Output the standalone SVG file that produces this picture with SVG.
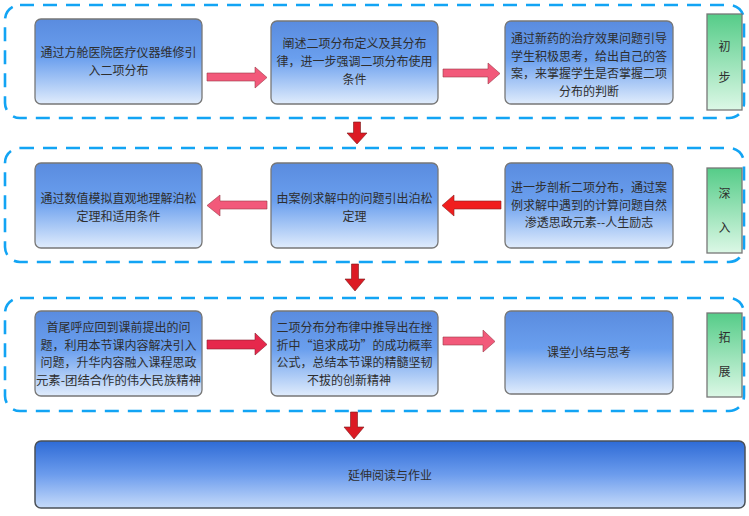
<svg xmlns="http://www.w3.org/2000/svg" width="749" height="516" viewBox="0 0 749 516">
<defs>
<linearGradient id="gb" x1="0" y1="0" x2="0" y2="1">
<stop offset="0" stop-color="#5a8cdf"/>
<stop offset="0.45" stop-color="#6a9fee"/>
<stop offset="1" stop-color="#e0ecfc"/>
</linearGradient>
<linearGradient id="gd" x1="0" y1="0" x2="0" y2="1">
<stop offset="0" stop-color="#2e6bd6"/>
<stop offset="0.5" stop-color="#6c9ced"/>
<stop offset="1" stop-color="#c6dbfa"/>
</linearGradient>
<linearGradient id="gg" x1="0" y1="0" x2="0" y2="1">
<stop offset="0" stop-color="#55cc88"/>
<stop offset="1" stop-color="#dcf8e6"/>
</linearGradient>
</defs>
<style>
.cont{fill:none;stroke:#12a4f4;stroke-width:2.6;stroke-dasharray:14 9}
.box{fill:url(#gb);stroke:#777;stroke-width:1.3}
.big{fill:url(#gd);stroke:#4a5058;stroke-width:1.5}
.grn{fill:url(#gg);stroke:#777;stroke-width:1.3}
text{font-family:"Noto Sans CJK SC","Liberation Serif",serif;font-size:12px;fill:#2e2e2e;text-anchor:middle}
.pink{fill:#f2597a;stroke:#9a3a48;stroke-width:0.6}
.red{fill:#f01e1e;stroke:#8a2020;stroke-width:0.6}
.crim{fill:#e6284c;stroke:#8a2030;stroke-width:0.6}
.down{fill:#dc1a24;stroke:#7a1a1a;stroke-width:0.6}
</style>
<g id="containers">
<rect class="cont" x="5" y="5" width="739" height="113" rx="15"/>
<rect class="cont" x="5" y="148" width="739" height="114" rx="15"/>
<rect class="cont" x="5" y="298" width="739" height="113" rx="15"/>
</g>
<g id="n1"><rect class="box" x="35" y="19" width="167" height="85" rx="6"/>
<text x="118.5" y="57">通过方舱医院医疗仪器维修引</text><text x="118.5" y="75">入二项分布</text></g>
<g id="n2"><rect class="box" x="271" y="21" width="167" height="83" rx="6"/>
<text x="354.5" y="48">阐述二项分布定义及其分布</text><text x="354.5" y="66">律，进一步强调二项分布使用</text><text x="354.5" y="84">条件</text></g>
<g id="n3"><rect class="box" x="505" y="21" width="168" height="83" rx="6"/>
<text x="589" y="43">通过新药的治疗效果问题引导</text><text x="589" y="60.5">学生积极思考，给出自己的答</text><text x="589" y="78">案，来掌握学生是否掌握二项</text><text x="589" y="95.5">分布的判断</text></g>
<g id="g1"><rect class="grn" x="707" y="14" width="35" height="96"/>
<text x="724.5" y="51">初</text><text x="724.5" y="82">步</text></g>

<g id="n4"><rect class="box" x="35" y="163" width="167" height="85" rx="6"/>
<text x="118.5" y="203">通过数值模拟直观地理解泊松</text><text x="118.5" y="220.5">定理和适用条件</text></g>
<g id="n5"><rect class="box" x="271" y="163" width="167" height="85" rx="6"/>
<text x="354.5" y="203">由案例求解中的问题引出泊松</text><text x="354.5" y="220.5">定理</text></g>
<g id="n6"><rect class="box" x="505" y="163" width="168" height="85" rx="6"/>
<text x="589" y="192.3">进一步剖析二项分布，通过案</text><text x="589" y="209.8">例求解中遇到的计算问题自然</text><text x="589" y="227.3">渗透思政元素--人生励志</text></g>
<g id="g2"><rect class="grn" x="707" y="168" width="35" height="85"/>
<text x="724.5" y="198">深</text><text x="724.5" y="232">入</text></g>

<g id="n7"><rect class="box" x="35" y="311" width="167" height="85" rx="6"/>
<text x="118.5" y="332">首尾呼应回到课前提出的问</text><text x="118.5" y="349.5">题，利用本节课内容解决引入</text><text x="118.5" y="367">问题，升华内容融入课程思政</text><text x="118.5" y="384.5" textLength="165" lengthAdjust="spacingAndGlyphs">元素-团结合作的伟大民族精神</text></g>
<g id="n8"><rect class="box" x="271" y="311" width="167" height="85" rx="6"/>
<text x="354.5" y="332">二项分布分布律中推导出在挫</text><text x="354.5" y="349.5">折中“追求成功”的成功概率</text><text x="354.5" y="367">公式，总结本节课的精髓坚韧</text><text x="349" y="384.5">不拔的创新精神</text></g>
<g id="n9"><rect class="box" x="505" y="311" width="168" height="83" rx="6"/>
<text x="589" y="357">课堂小结与思考</text></g>
<g id="g3"><rect class="grn" x="707" y="313" width="35" height="84"/>
<text x="724.5" y="342">拓</text><text x="724.5" y="376">展</text></g>

<g id="n10"><rect class="big" x="35" y="441" width="710" height="67" rx="6"/>
<text x="390" y="480">延伸阅读与作业</text></g>

<g id="connectors">
<polygon class="pink" points="207,73 255,73 255,67 267,77.5 255,88 255,81 207,81"/>
<polygon class="pink" points="443,69 488,69 488,63 500,73.5 488,84 488,77 443,77"/>
<polygon class="pink" points="267,201 220,201 220,195 207,205.5 220,216 220,209 267,209"/>
<polygon class="red" points="501,201 454,201 454,195 442,205.5 454,216 454,209 501,209"/>
<polygon class="crim" points="207,340 255,340 255,333 267,344.5 255,355 255,349 207,349"/>
<polygon class="pink" points="443,337 483,337 483,330 495,341.5 483,352 483,345 443,345"/>
<polygon class="down" points="353.5,122 360.5,122 360.5,133 367,133 357,144 347,133 353.5,133"/>
<polygon class="down" points="351.5,264 358.5,264 358.5,279 365,279 355,291 345,279 351.5,279"/>
<polygon class="down" points="350.5,412 357.5,412 357.5,427 364,427 354,439 344,427 350.5,427"/>
</g>
</svg>
